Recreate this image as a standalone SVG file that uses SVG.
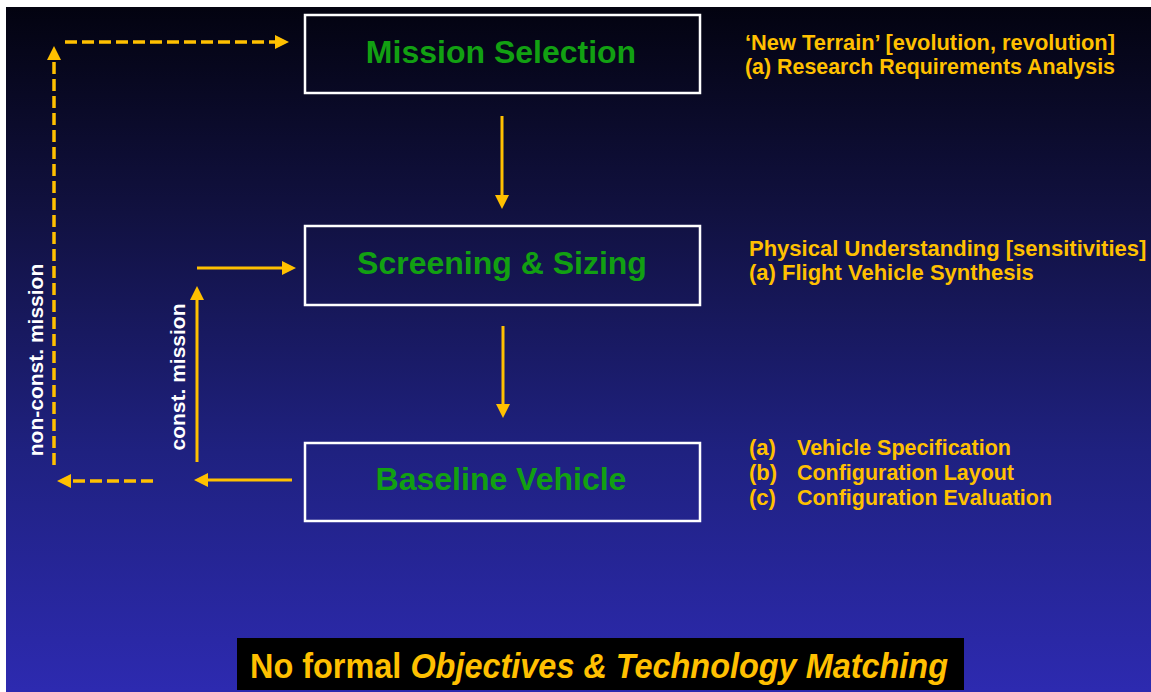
<svg xmlns="http://www.w3.org/2000/svg" width="1151" height="692" viewBox="0 0 1151 692">
  <defs>
    <linearGradient id="bg" x1="0" y1="0" x2="0" y2="1">
      <stop offset="0" stop-color="#030310"/>
      <stop offset="0.3" stop-color="#111140"/>
      <stop offset="0.65" stop-color="#1f2180"/>
      <stop offset="1" stop-color="#2d2ab0"/>
    </linearGradient>
    <marker id="head" markerUnits="userSpaceOnUse" markerWidth="16" markerHeight="16" refX="2" refY="7" orient="auto">
      <path d="M0,0 L14,7 L0,14 z" fill="#ffc000"/>
    </marker>
    <style>
      .box { fill: none; stroke: #ffffff; stroke-width: 2.5; }
      .title { font-family: "Liberation Sans", Arial, sans-serif; font-weight: bold; font-size: 32px; fill: #12a012; text-anchor: middle; }
      .note { font-family: "Liberation Sans", Arial, sans-serif; font-weight: bold; font-size: 22px; fill: #ffc000; }
      .side { font-family: "Liberation Sans", Arial, sans-serif; font-weight: bold; font-size: 21px; fill: #ffffff; text-anchor: middle; }
      .link { stroke: #ffc000; stroke-width: 3; fill: none; marker-end: url(#head); }
      .dash { stroke-dasharray: 12 5; stroke-width: 3.5; }
      .banner { font-family: "Liberation Sans", Arial, sans-serif; font-weight: bold; font-size: 35px; fill: #ffc000; }
    </style>
  </defs>

  <!-- page -->
  <rect x="0" y="0" width="1151" height="692" fill="#ffffff"/>
  <rect x="6" y="7" width="1145" height="685" fill="url(#bg)"/>

  <!-- process boxes -->
  <g id="mission-selection">
    <rect class="box" x="305" y="15" width="395" height="78"/>
    <text class="title" x="501" y="63">Mission Selection</text>
  </g>
  <g id="screening-sizing">
    <rect class="box" x="305" y="226" width="395" height="79"/>
    <text class="title" x="502" y="274">Screening &amp; Sizing</text>
  </g>
  <g id="baseline-vehicle">
    <rect class="box" x="305" y="443" width="395" height="78"/>
    <text class="title" x="501" y="490">Baseline Vehicle</text>
  </g>

  <!-- connectors -->
  <g id="connectors">
    <line class="link" x1="502" y1="116" x2="502" y2="197"/>
    <line class="link" x1="503" y1="326" x2="503" y2="406"/>
    <line class="link" x1="292" y1="480" x2="206" y2="480"/>
    <line class="link" x1="197" y1="462" x2="197" y2="298"/>
    <line class="link" x1="197" y1="268" x2="284" y2="268"/>
    <line class="link dash" x1="153" y1="481" x2="69" y2="481"/>
    <line class="link dash" x1="54" y1="465" x2="54" y2="58"/>
    <line class="link dash" x1="65" y1="42" x2="277" y2="42"/>
  </g>

  <!-- loop labels -->
  <g id="label-non-const">
    <text class="side" transform="translate(43 360) rotate(-90)">non-const. mission</text>
  </g>
  <g id="label-const">
    <text class="side" transform="translate(185 377) rotate(-90)">const. mission</text>
  </g>

  <!-- annotations -->
  <g id="note-mission">
    <text class="note" x="745" y="50" textLength="370" lengthAdjust="spacingAndGlyphs">‘New Terrain’ [evolution, revolution]</text>
    <text class="note" x="745" y="74" textLength="370" lengthAdjust="spacingAndGlyphs">(a) Research Requirements Analysis</text>
  </g>
  <g id="note-screening">
    <text class="note" x="749" y="256">Physical Understanding [sensitivities]</text>
    <text class="note" x="749" y="280">(a) Flight Vehicle Synthesis</text>
  </g>
  <g id="note-baseline">
    <text class="note" x="749" y="455">(a)</text>
    <text class="note" x="797" y="455" textLength="214" lengthAdjust="spacingAndGlyphs">Vehicle Specification</text>
    <text class="note" x="749" y="480">(b)</text>
    <text class="note" x="797" y="480" textLength="217" lengthAdjust="spacingAndGlyphs">Configuration Layout</text>
    <text class="note" x="749" y="505">(c)</text>
    <text class="note" x="797" y="505" textLength="255" lengthAdjust="spacingAndGlyphs">Configuration Evaluation</text>
  </g>

  <!-- footer banner -->
  <g id="banner">
    <rect x="237" y="638" width="727" height="52" fill="#000000"/>
    <text class="banner" x="250" y="678" textLength="698" lengthAdjust="spacingAndGlyphs">No formal <tspan font-style="italic">Objectives &amp; Technology Matching</tspan></text>
  </g>
</svg>
